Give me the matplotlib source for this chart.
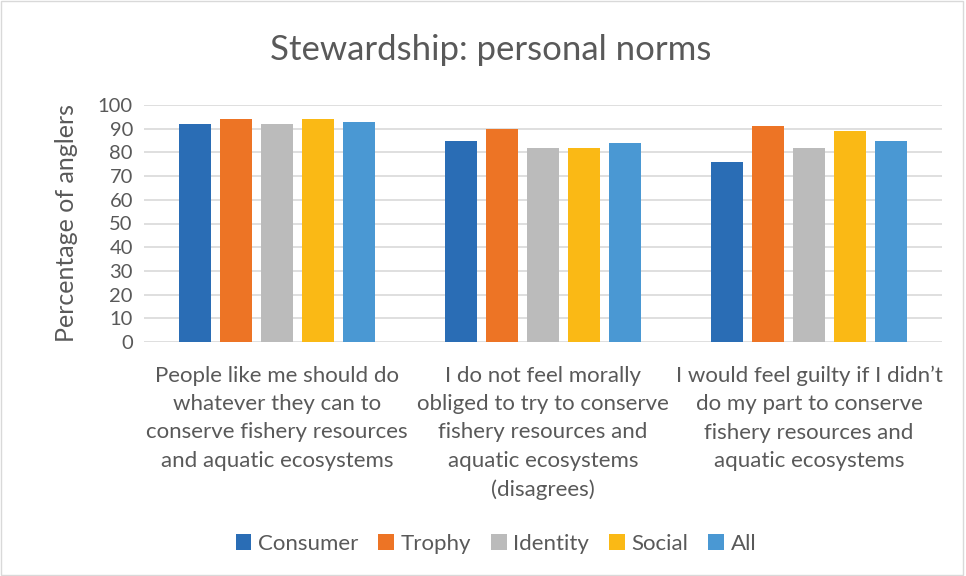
import matplotlib.pyplot as plt
import numpy as np
from matplotlib.patches import Rectangle

categories = [
    "People like me should do\nwhatever they can to\nconserve fishery resources\nand aquatic ecosystems",
    "I do not feel morally\nobliged to try to conserve\nfishery resources and\naquatic ecosystems\n(disagrees)",
    "I would feel guilty if I didn\u2019t\ndo my part to conserve\nfishery resources and\naquatic ecosystems",
]
groups = ["Consumer", "Trophy", "Identity", "Social", "All"]
consumer = [92, 85, 76]
trophy = [94, 90, 91]
identity = [92, 82, 82]
social = [94, 82, 89]
all_anglers = [93, 84, 85]

colors = ["#2a6db5", "#ed7425", "#bbbbbb", "#fab915", "#4a98d3"]
text_gray = "#595959"

plt.rcParams["font.family"] = ["Lato", "DejaVu Sans"]

fig = plt.figure(figsize=(9.66, 5.76), dpi=100)
ax = fig.add_axes([144 / 966, 1 - 342 / 576, 798 / 966, 237 / 576])

# light frame around the chart, like the spreadsheet export
fig.patches.append(Rectangle((0.001, 0.002), 0.996, 0.996, transform=fig.transFigure,
                             fill=False, edgecolor="#d9d9d9", linewidth=1))

x = np.arange(len(categories))
width = 0.12
step = 0.154
series = [consumer, trophy, identity, social, all_anglers]
for i, (name, vals) in enumerate(zip(groups, series)):
    ax.bar(x + (i - 2) * step, vals, width, color=colors[i], label=name, zorder=3)

ax.set_xlim(-0.5, len(categories) - 0.5)
ax.set_ylim(0, 100)
ax.set_yticks(range(0, 101, 10))
ax.grid(axis="y", color="#d9d9d9", linewidth=1.2, zorder=0)
for s in ax.spines.values():
    s.set_visible(False)
ax.tick_params(axis="y", length=0, labelsize=14.5, labelcolor=text_gray, pad=8)
ax.tick_params(axis="x", length=0, labelsize=16, labelcolor=text_gray, pad=17)
ax.set_xticks(x)
ax.set_xticklabels(categories, linespacing=1.52)

ax.set_ylabel("Percentage of anglers", fontsize=18, color=text_gray, labelpad=14)
fig.text(491 / 966, 1 - 50 / 576, "Stewardship: personal norms", ha="center", va="center",
         fontsize=25, color=text_gray)

fig.legend(loc="center", bbox_to_anchor=(496 / 966, 1 - 544 / 576), ncol=5, frameon=False,
           fontsize=16, labelcolor=text_gray, handlelength=0.7, handleheight=0.7,
           handletextpad=0.3, columnspacing=0.9)

fig.savefig("out.png", dpi=100)
